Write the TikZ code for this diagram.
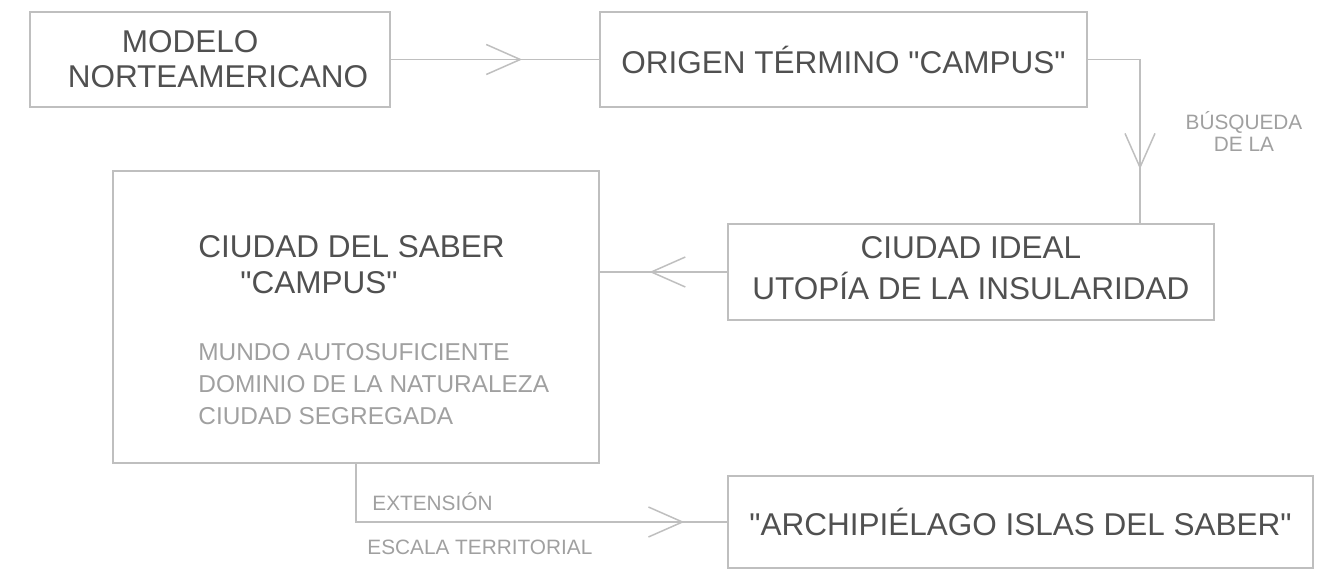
\documentclass[tikz,border=0pt]{standalone}
\usepackage{fontspec}
\setmainfont{Liberation Sans}[Ligatures=TeXOff]
\usetikzlibrary{arrows.meta,decorations.markings}

\definecolor{linegray}{HTML}{BFBFBF}
\definecolor{textgray}{HTML}{505050}
\definecolor{softgray}{HTML}{A0A0A0}

\tikzset{
	chevron/.tip={Straight Barb[length=17pt,width=15pt]},
	box/.style={draw=linegray, line width=0.75pt, text=textgray, align=center, inner sep=0pt},
	link/.style={draw=linegray, line width=0.75pt},
	midarrow/.style={postaction={decorate}, decoration={markings,
		mark=at position #1 with {\arrow[linegray, line width=0.75pt]{chevron}}}},
	note/.style={text=softgray, inner sep=0pt, font=\fontsize{10.4}{11}\selectfont},
	bigtext/.style={font=\fontsize{15.75}{#1}\selectfont}
}

\begin{document}
\begin{tikzpicture}[x=0.5pt, y=-0.5pt]
		\useasboundingbox (0,0) rectangle (1330,572);
		
		% boxes
		\node [box, bigtext=17.5pt, align=left, minimum width=180pt, minimum height=47.5pt] (modelo) at (210,59.5) {\hspace*{35pt}MODELO\\\hspace*{8pt}NORTEAMERICANO};
		\node [box, bigtext=19pt, minimum width=243.5pt, minimum height=47.5pt] (origen) at (843.5,59.5) {ORIGEN TÉRMINO "CAMPUS"};
		\node [box, bigtext=20.5pt, text depth=4pt, minimum width=243pt, minimum height=48pt] (ideal) at (971,272) {CIUDAD IDEAL\\UTOPÍA DE LA INSULARIDAD};
		\node [box, minimum width=243pt, minimum height=146pt] (saber) at (356,317) {};
		\node [box, bigtext=19pt, minimum width=292.5pt, minimum height=46pt] (archi) at (1020.5,522) {"ARCHIPIÉLAGO ISLAS DEL SABER"};
		
		% texts of the big box
		\node [anchor=north west, inner sep=0pt, align=left, text=textgray, bigtext=18pt] (sabertitle) at (198,235) {CIUDAD DEL SABER\\\hspace*{21pt}"CAMPUS"};
		\node [anchor=north west, inner sep=0pt, align=left, text=softgray, font=\fontsize{12.2}{16}\selectfont] (saberlist) at (198,343) {MUNDO AUTOSUFICIENTE\\DOMINIO DE LA NATURALEZA\\CIUDAD SEGREGADA};
		
		% connectors
		\coordinate (bend) at (1140,59.5);
		\draw [link, midarrow=0.63] (modelo.east) -- (origen.west);
		\draw [link, midarrow=0.75] (origen.east) -- (bend) -- (bend |- ideal.north);
		\draw [link, midarrow=0.61] (ideal.west) -- (ideal.west -| saber.east);
		\draw [link, midarrow=0.9] (saber.south) |- (archi.west);
		
		% labels
		\node [note, align=center] (busqueda) at (1244,131) {BÚSQUEDA\\DE LA};
		\node [note, anchor=west] (extension) at (372,502) {EXTENSIÓN};
		\node [note, anchor=west] (escala) at (367,547) {ESCALA TERRITORIAL};
	\end{tikzpicture}
\end{document}
